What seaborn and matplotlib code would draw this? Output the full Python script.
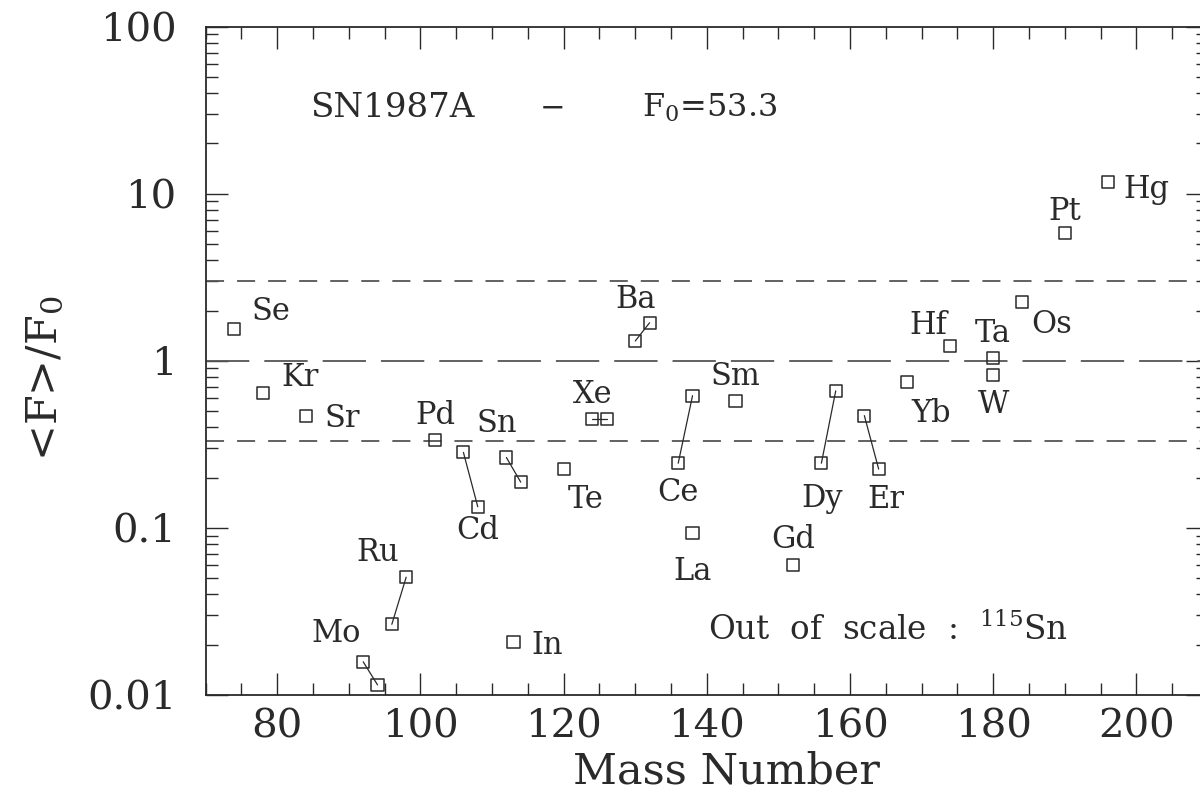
import matplotlib
matplotlib.use("Agg")
import matplotlib.pyplot as plt
from matplotlib.ticker import MultipleLocator, FixedLocator, LogLocator, FuncFormatter, NullFormatter
import numpy as np
import pandas as pd
import seaborn as sns

# p-nuclei: element, mass number and overproduction factor <F>/F0
elements = ["Se", "Kr", "Sr", "Mo", "Mo", "Ru", "Ru", "Pd", "Cd", "Cd", "In", "Sn", "Sn",
            "Te", "Xe", "Xe", "Ba", "Ba", "La", "Ce", "Ce", "Sm", "Gd", "Dy", "Dy", "Er",
            "Er", "Yb", "Hf", "Ta", "W", "Os", "Pt", "Hg"]
mass = [74, 78, 84, 92, 94, 96, 98, 102, 106, 108, 113, 112, 114,
        120, 124, 126, 130, 132, 138, 136, 138, 144, 152, 156, 158, 162,
        164, 168, 174, 180, 180, 184, 190, 196]
ratio = [1.55, 0.64, 0.47, 0.0158, 0.0115, 0.0265, 0.0507, 0.336, 0.283, 0.134, 0.0207, 0.264, 0.188,
         0.225, 0.449, 0.449, 1.315, 1.69, 0.0937, 0.244, 0.619, 0.578, 0.0601, 0.244, 0.661, 0.47,
         0.225, 0.751, 1.23, 1.04, 0.824, 2.24, 5.81, 11.8]

y_ticks = [0.01, 0.1, 1, 10, 100]
band = [3.0, 1.0, 1.0 / 3.0]

# element label: (isotope mass it sits next to, offset in pixels)
label_pos = {
    "Se": (74, 37, 9), "Kr": (78, 37, 7), "Sr": (84, 36, -11), "Pd": (102, 1, 16),
    "Sn": (112, -10, 25), "Cd": (108, 0, -32), "Te": (120, 22, -39), "Xe": (124, 0, 16),
    "Ba": (130, 0, 33), "Ce": (136, 0, -38), "La": (138, 0, -47), "Sm": (144, 0, 16),
    "Gd": (152, 0, 17), "Dy": (156, 1, -44), "Er": (164, 7, -39), "Yb": (168, 24, -40),
    "Hf": (174, -22, 12), "Ta": (180, 0, 16), "W": (180, 0, -38), "Os": (184, 30, -31),
    "Pt": (190, 0, 13), "Hg": (196, 39, -16), "Ru": (96, -14, 63), "Mo": (92, -27, 20),
    "In": (113, 34, -12),
}

df = pd.DataFrame({"element": elements, "mass": mass, "ratio": ratio})

sns.set_theme(style="ticks")
plt.rcParams["font.family"] = ["DejaVu Serif"]
plt.rcParams["mathtext.fontset"] = "dejavuserif"
plt.rcParams["mathtext.default"] = "regular"

ink = "#2a2a2a"
fig = plt.figure(figsize=(12, 7.9), dpi=100)
ax = fig.add_axes([205.7 / 1200, 95 / 790, 1002.3 / 1200, 668.3 / 790])

# reference band at 3, 1 and 1/3
ax.axhline(band[0], color="#555555", lw=1.3, ls=(0, (10, 7.2)), zorder=1)
ax.axhline(band[1], color="#555555", lw=1.3, ls=(0, (24, 8.3)), zorder=1)
ax.axhline(band[2], color="#555555", lw=1.3, ls=(0, (10, 7.2)), zorder=1)

# isotopes of the same element are joined
pairs = df[df.groupby("element")["element"].transform("size") > 1]
sns.lineplot(data=pairs, x="mass", y="ratio", units="element", estimator=None,
             color=ink, lw=0.9, ax=ax, legend=False, zorder=2)
sns.scatterplot(data=df, x="mass", y="ratio", marker="s", s=76,
                facecolor="none", edgecolor=ink, linewidth=1.1, ax=ax,
                legend=False, zorder=3)

for el, (m, dx, dy) in label_pos.items():
    row = df[(df.element == el) & (df.mass == m)].iloc[0]
    ax.annotate(el, (row.mass, row.ratio), xytext=(dx, dy), textcoords="offset pixels",
                ha="center", va="baseline", fontsize=22, color=ink)

ax.text(84.55, 28.9, "SN1987A", fontsize=24.5, color=ink, ha="left", va="baseline")
ax.text(118.5, 28.9, "−", fontsize=22, color=ink, ha="center", va="baseline")
ax.text(130.9, 28.9, "F$_0$=53.3", fontsize=23, color=ink, ha="left", va="baseline")
ax.text(140.2, 0.0212, "Out  of  scale  :  $^{115}$Sn", fontsize=23.5, color=ink,
        ha="left", va="baseline")

ax.set_xscale("linear")
ax.set_yscale("log")
ax.set_xlim(70, 210)
ax.set_ylim(0.01, 100)
ax.xaxis.set_major_locator(MultipleLocator(20))
ax.xaxis.set_minor_locator(MultipleLocator(5))
ax.yaxis.set_major_locator(FixedLocator(y_ticks))
ax.yaxis.set_minor_locator(LogLocator(base=10, subs=np.arange(2, 10)))
ax.yaxis.set_major_formatter(FuncFormatter(lambda v, p: f"{v:g}"))
ax.yaxis.set_minor_formatter(NullFormatter())
ax.set_xlabel("")
ax.set_ylabel("")

ax.tick_params(which="both", direction="in", top=True, right=True, color=ink,
               width=1.0, labelcolor=ink, labelsize=29)
ax.tick_params(which="major", length=16)
ax.tick_params(which="minor", length=8.5)
ax.tick_params(axis="x", pad=10)
ax.tick_params(axis="y", pad=21)
for sp in ax.spines.values():
    sp.set_visible(True)
    sp.set_color(ink)
    sp.set_linewidth(1.3)

fig.text(726 / 1200, 1 - 783 / 790, "Mass Number", ha="center", va="baseline",
         fontsize=31, color=ink)
fig.text(44 / 1200, 1 - 378 / 790, "<F>/F$_0$", ha="center", va="center",
         rotation=90, fontsize=31, color=ink)

fig.savefig("out.png", dpi=100)
